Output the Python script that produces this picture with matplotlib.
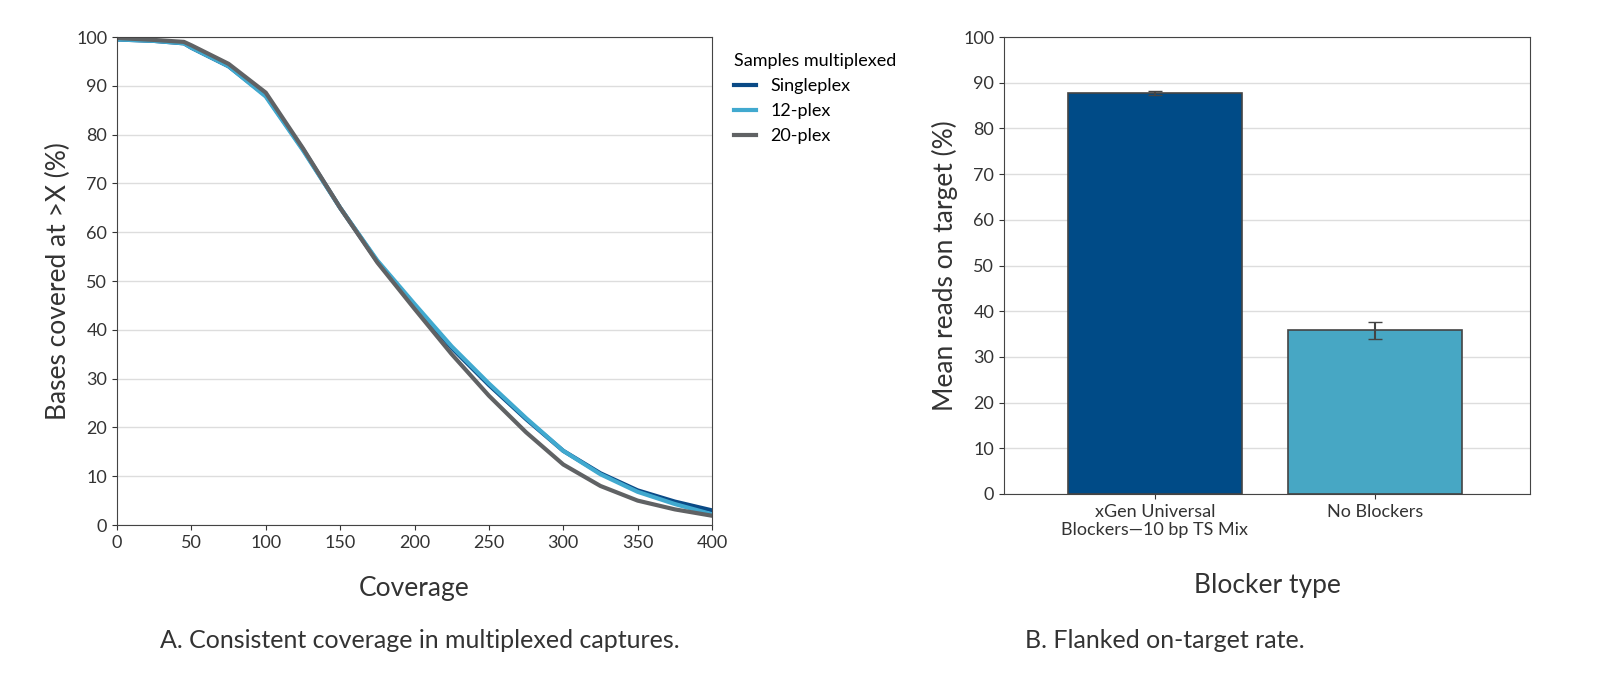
import matplotlib
matplotlib.use("Agg")
import matplotlib.pyplot as plt

coverage = [0, 25, 45, 50, 75, 100, 125, 150, 175, 200, 225, 250, 275, 300, 325, 350, 375, 400]
singleplex = [99.5, 99.2, 98.7, 97.8, 94, 88, 77, 65, 54, 45, 36.3, 28.7, 21.7, 15.2, 10.6, 7.1, 4.8, 3.0]
plex12 = [99.5, 99.2, 98.7, 97.8, 94, 87.8, 76.8, 65, 54.2, 45.3, 36.6, 29, 21.9, 15.2, 10.4, 6.8, 4.3, 2.2]
plex20 = [99.8, 99.4, 99.0, 98.3, 94.5, 88.6, 77.2, 65, 53.8, 44.3, 35, 26.5, 19, 12.4, 8, 5, 3.2, 1.9]

blockers = ["xGen Universal\nBlockers\u201410 bp TS Mix", "No Blockers"]
on_target = [87.7, 35.8]
on_target_err = [0.5, 1.8]

font = "Lato"
plt.rcParams["font.family"] = font
fig = plt.figure(figsize=(16, 6.91), dpi=100)
W, H = 1600, 691
def ax_at(x0, y0, x1, y1):
    return fig.add_axes([x0 / W, 1 - y1 / H, (x1 - x0) / W, (y1 - y0) / H])

ax1 = ax_at(117, 37, 712, 525)
ax1.plot(coverage, singleplex, color="#0a4a86", lw=3, label="Singleplex")
ax1.plot(coverage, plex12, color="#41a9cf", lw=3, label="12-plex")
ax1.plot(coverage, plex20, color="#606264", lw=3, label="20-plex")
ax1.set_xlim(0, 400)
ax1.set_ylim(0, 100)
ax1.set_xticks(range(0, 401, 50))
ax1.set_yticks(range(0, 101, 10))
ax1.yaxis.grid(True, color="#dddddd", lw=1)
ax1.set_axisbelow(True)
ax1.set_xlabel("Coverage", fontsize=19, color="#333333", labelpad=18)
ax1.set_ylabel("Bases covered at >X (%)", fontsize=19, color="#333333")
leg = ax1.legend(title="Samples multiplexed", loc="upper left", bbox_to_anchor=(1.01, 1.0),
                 frameon=False, fontsize=13, title_fontsize=13, handlelength=1.2)
leg._legend_box.align = "left"

ax2 = ax_at(1004, 37, 1530, 494)
ax2.bar([0, 1], on_target, width=0.79, color=["#004b87", "#47a7c4"], edgecolor="#444444", lw=1.2,
        yerr=on_target_err, capsize=5, error_kw=dict(ecolor="#444444", lw=1.5), zorder=2)
ax2.set_xlim(-0.686, 1.705)
ax2.set_ylim(0, 100)
ax2.set_yticks(range(0, 101, 10))
ax2.set_xticks([0, 1])
ax2.set_xticklabels(blockers)
ax2.yaxis.grid(True, color="#dddddd", lw=1)
ax2.set_axisbelow(True)
ax2.set_xlabel("Blocker type", fontsize=19, color="#333333", labelpad=25)
ax2.set_ylabel("Mean reads on target (%)", fontsize=19, color="#333333")

for ax in (ax1, ax2):
    for s in ax.spines.values():
        s.set_color("#444444")
    ax.tick_params(labelsize=13, colors="#333333")

fig.text(420 / W, 1 - 640 / H, "A. Consistent coverage in multiplexed captures.", ha="center", va="center",
         fontsize=18, color="#333333")
fig.text(1165 / W, 1 - 640 / H, "B. Flanked on-target rate.", ha="center", va="center",
         fontsize=18, color="#333333")
fig.savefig("out.png", dpi=100)
